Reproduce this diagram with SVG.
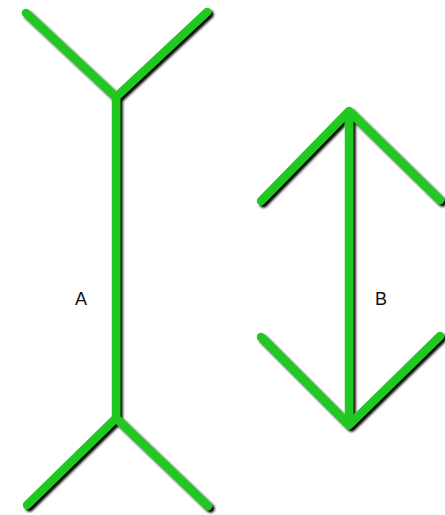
<svg xmlns="http://www.w3.org/2000/svg" width="445" height="515" viewBox="0 0 445 515">
<defs>
<filter id="sh" x="-10%" y="-10%" width="120%" height="120%">
<feDropShadow dx="2.5" dy="2.5" stdDeviation="0.9" flood-color="#000" flood-opacity="1"/>
</filter>
<style>
.ln{fill:none;stroke:#22c822;stroke-width:8.5;stroke-linecap:round;stroke-linejoin:round;filter:url(#sh)}
.lb{font-family:"Liberation Sans",Arial,sans-serif;font-size:18px;fill:#111}
</style>
</defs>
<rect width="445" height="515" fill="#fff"/>
<g id="figA">
<path class="ln" d="M26,13 L116,97 L207,12 M116,97 L116,418 M27,505 L116,418 L208,506"/>
<text class="lb" x="75" y="305">A</text>
</g>
<g id="figB">
<path class="ln" d="M261,201 L349,111 L440,200 M349,111 L349,425 M261,337 L349,425 L440,336"/>
<text class="lb" x="375" y="305">B</text>
</g>
</svg>
